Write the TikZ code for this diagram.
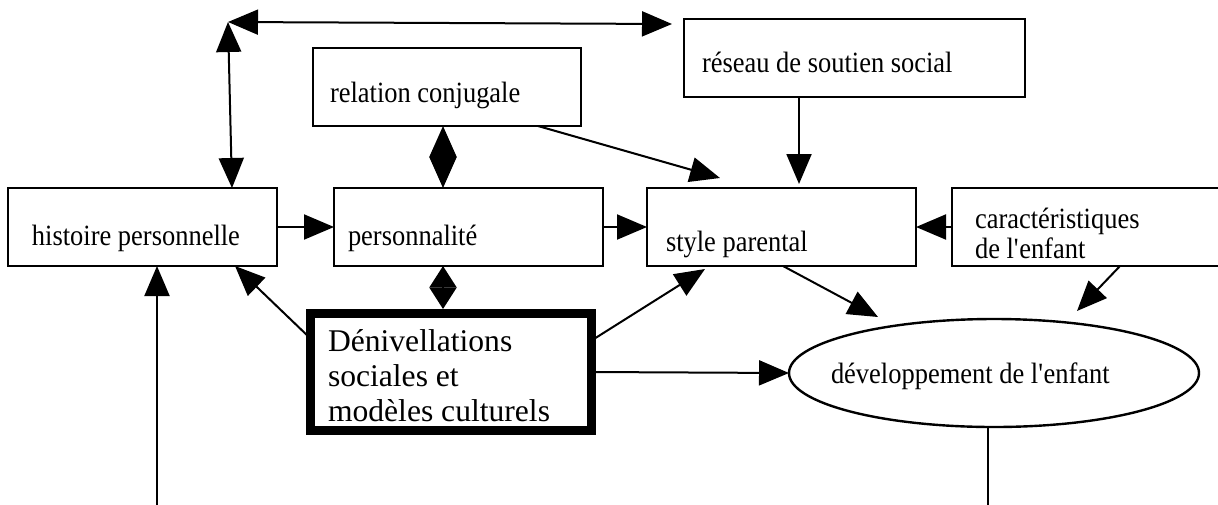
\documentclass[tikz,border=0pt]{standalone}
\usepackage{fontspec}
\setmainfont{Liberation Serif}
\newfontfamily\narrowserif[FakeStretch=0.9]{Liberation Serif}
\usetikzlibrary{arrows.meta,calc,shapes.geometric}
\begin{document}
\begin{tikzpicture}[x=0.5pt,y=-0.5pt,
  box/.style={draw, line width=1.25pt, rectangle, inner sep=0pt, outer sep=0pt,
              minimum width=134.5pt, minimum height=39pt},
  thickbox/.style={draw, line width=4.5pt, rectangle, inner sep=0pt, outer sep=0pt},
  oval/.style={draw, ellipse, line width=1.2pt, inner sep=0pt, outer sep=0pt},
  lbl/.style={anchor=base west, inner sep=0pt, outer sep=0pt,
              font=\narrowserif\fontsize{14.7}{15}\selectfont, align=left},
  biglbl/.style={anchor=base west, inner sep=0pt, outer sep=0pt,
              font=\fontsize{15.8}{17.5}\selectfont, align=left},
  tip/.tip={Triangle[length=15pt,width=12.5pt]},
  conn/.style={line width=1pt, -tip},
  both/.style={line width=1pt, tip-tip},
  diam/.style={line width=1pt,
              {Triangle[length=#1,width=13.5pt]}-{Triangle[length=#1,width=13.5pt]}},
]
% page frame, everything outside is cut off
\useasboundingbox (0,0) rectangle (1218,504);
\clip (0,0) rectangle (1218,504);

% boxes
\node[box] (hist) at (142.5,227) {};
\node[box] (pers) at (468.5,227) {};
\node[box] (sty)  at (781.5,227) {};
\node[box] (car)  at (1086.5,227) {};
\node[box, minimum width=134pt] (relc) at (447,87) {};
\node[box, minimum width=170.5pt] (res) at (854.5,58) {};
\node[thickbox, minimum width=140.5pt, minimum height=58.5pt] (den) at (451,372) {};
\node[oval, minimum width=205pt, minimum height=54pt] (dev) at (994,373) {};

% labels (multi-line labels are placed by their last baseline)
\node[lbl] (histT) at (32,245) {histoire personnelle};
\node[lbl] (persT) at (348,245) {personnalité};
\node[lbl] (styT)  at (666,251) {style parental};
\node[lbl] (carT)  at (975,258) {caractéristiques\\de l\textquotesingle enfant};
\node[lbl] (relcT) at (330,102) {relation conjugale};
\node[lbl] (resT)  at (702,72) {réseau de soutien social};
\node[biglbl] (denT) at (328,421) {Dénivellations\\sociales et\\modèles culturels};
\node[lbl] (devT)  at (831,383) {développement de l\textquotesingle enfant};

% corner of the upper feedback loop
\coordinate (corner) at (228,22);

% connectors
\draw[both] ($(hist.north west)+(224,0)$) -- (corner);
\draw[both] (corner) -- ($(res.north west)+(-12,5)$);
\draw[diam=15.5pt] ($(relc.south west)+(130,0)$) -- ($(pers.north west)+(109,0)$);
\draw[diam=10.75pt] ($(pers.south west)+(109,0)$) -- ($(den.north west)+(132.5,-4.5)$);
\draw[conn] ($(relc.south west)+(225,0)$) -- ($(sty.north west)+(73,-10)$);
\draw[conn] ($(res.south west)+(115,0)$) -- ($(sty.north west)+(152,-4)$);
\draw[conn] (hist.east) -- (pers.west);
\draw[conn] (pers.east) -- (sty.west);
\draw[conn] (car.west) -- (sty.east);
\draw[conn] ($(den.north west)+(0,25)$) -- ($(hist.south west)+(227,0)$);
\draw[conn] ($(den.north east)+(0,27)$) -- ($(sty.south west)+(58,3)$);
\draw[conn] (den.east) -- (dev.west);
\draw[conn] ($(sty.south west)+(136,0)$) -- ($(dev.center)+(-116,-56)$);
\draw[conn] ($(car.south west)+(168,0)$) -- ($(dev.center)+(83,-62)$);
\draw[conn] ($(dev.south)+(-6,0)$) -- ++(0,110) -| ($(hist.south west)+(149,0)$);
\end{tikzpicture}
\end{document}
